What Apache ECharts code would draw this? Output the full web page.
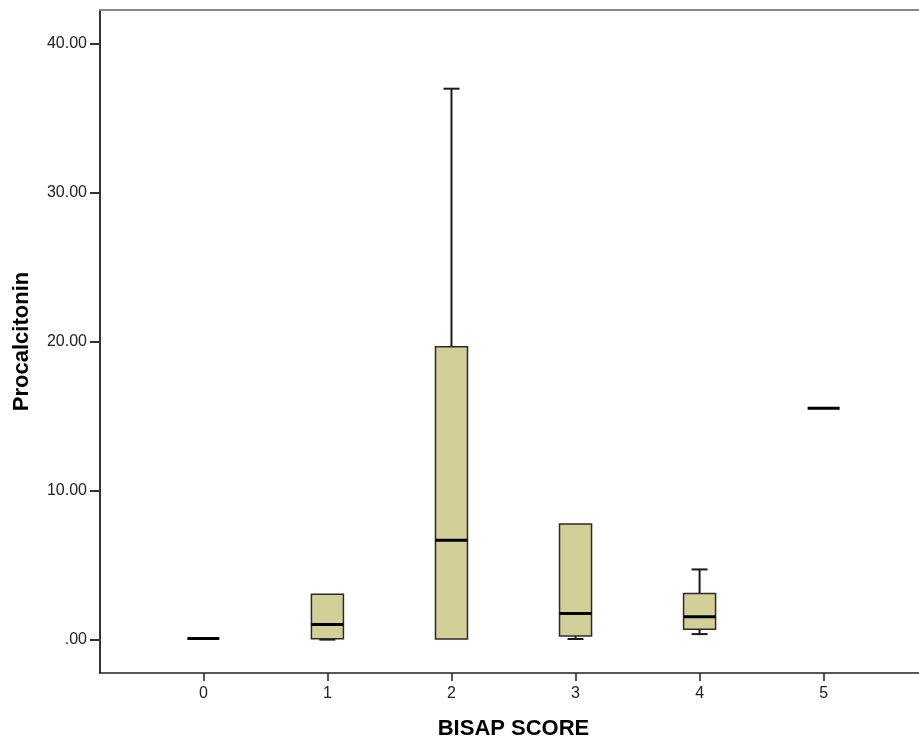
<!DOCTYPE html>
<html>
<head>
<meta charset="utf-8">
<script src="https://cdn.jsdelivr.net/npm/echarts@6/dist/echarts.min.js"></script>
<style>html,body{margin:0;padding:0;background:#fff;}#c{width:919px;height:742px;}</style>
</head>
<body>
<div id="c"></div>
<script>
const categories = ['0', '1', '2', '3', '4', '5'];
const whiskerLow  = [0.11, 0.03, 0.04, 0.07, 0.40, 15.55];
const q1          = [0.11, 0.08, 0.07, 0.27, 0.72, 15.55];
const medians     = [0.11, 1.05, 6.70, 1.79, 1.57, 15.55];
const q3          = [0.11, 3.08, 19.69, 7.79, 3.13, 15.55];
const whiskerHigh = [0.11, 3.10, 37.00, 7.80, 4.74, 15.55];
const yTicks = [0, 10, 20, 30, 40];
const yTickLabels = ['.00', '10.00', '20.00', '30.00', '40.00'];

const data = categories.map((c, i) => [i, whiskerLow[i], q1[i], medians[i], q3[i], whiskerHigh[i]]);

const chart = echarts.init(document.getElementById('c'), null, {renderer: 'canvas'});
const BOX_FRAC = 0.258;
const FONT = 'Liberation Sans, Arial, sans-serif';

function renderItem(params, api) {
  const x = api.value(0);
  const pLo = api.coord([x, api.value(1)]);
  const pQ1 = api.coord([x, api.value(2)]);
  const pMed = api.coord([x, api.value(3)]);
  const pQ3 = api.coord([x, api.value(4)]);
  const pHi = api.coord([x, api.value(5)]);
  const band = api.size([1, 0])[0];
  const w = band * BOX_FRAC;
  const cx = pMed[0];
  const children = [];
  const wStyle = {stroke: '#1a1a1a', lineWidth: 2};
  if (pHi[1] < pQ3[1] - 0.5) {
    children.push({type: 'line', shape: {x1: cx, y1: pHi[1], x2: cx, y2: pQ3[1]}, style: wStyle});
    children.push({type: 'line', shape: {x1: cx - w / 4, y1: pHi[1], x2: cx + w / 4, y2: pHi[1]}, style: wStyle});
  }
  if (pLo[1] > pQ1[1] + 0.5) {
    children.push({type: 'line', shape: {x1: cx, y1: pQ1[1], x2: cx, y2: pLo[1]}, style: wStyle});
    children.push({type: 'line', shape: {x1: cx - w / 4, y1: pLo[1], x2: cx + w / 4, y2: pLo[1]}, style: wStyle});
  }
  if (pQ1[1] - pQ3[1] > 0.5) {
    children.push({type: 'rect', shape: {x: cx - w / 2, y: pQ3[1], width: w, height: pQ1[1] - pQ3[1]},
      style: {fill: '#d3cf98', stroke: '#2b2b2b', lineWidth: 1.5}});
  }
  children.push({type: 'line', shape: {x1: cx - w / 2, y1: pMed[1], x2: cx + w / 2, y2: pMed[1]},
    style: {stroke: '#000', lineWidth: 3}});
  return {type: 'group', children: children};
}

chart.setOption({
  animation: false,
  backgroundColor: '#fff',
  grid: {left: 100, top: 10, width: 827, height: 663, containLabel: false, outerBoundsMode: 'none'},
  xAxis: [{
    type: 'value', min: -0.8333, max: 5.8333, position: 'bottom',
    name: 'BISAP SCORE', nameLocation: 'middle', nameGap: 45,
    nameTextStyle: {fontFamily: FONT, fontWeight: 'bold', fontSize: 22, color: '#000'},
    axisLine: {show: true, onZero: false, lineStyle: {color: '#222', width: 1.5}},
    axisTick: {show: true, length: 8, customValues: [0, 1, 2, 3, 4, 5], lineStyle: {color: '#222', width: 1.5}},
    axisLabel: {customValues: [0, 1, 2, 3, 4, 5], margin: 13, fontFamily: FONT, fontSize: 16, color: '#222',
      formatter: v => categories[Math.round(v)]},
    splitLine: {show: false}
  }, {
    type: 'value', min: -0.8333, max: 5.8333, position: 'top',
    axisLine: {show: true, onZero: false, lineStyle: {color: '#888', width: 2}},
    axisTick: {show: false}, axisLabel: {show: false}, splitLine: {show: false}
  }],
  yAxis: {
    type: 'value', min: -2.21, max: 42.28,
    name: 'Procalcitonin', nameLocation: 'middle', nameGap: 67, nameRotate: 90,
    nameTextStyle: {fontFamily: FONT, fontWeight: 'bold', fontSize: 22, color: '#000'},
    axisLine: {show: true, onZero: false, lineStyle: {color: '#333', width: 2}},
    axisTick: {show: true, length: 10, customValues: yTicks, lineStyle: {color: '#333', width: 2}},
    axisLabel: {customValues: yTicks, margin: 13, fontFamily: FONT, fontSize: 16, color: '#222',
      formatter: v => yTickLabels[yTicks.indexOf(Math.round(v))]},
    splitLine: {show: false}
  },
  series: [{
    type: 'custom', renderItem: renderItem, data: data, xAxisIndex: 0, yAxisIndex: 0,
    encode: {x: 0, y: [1, 2, 3, 4, 5]}, clip: false
  }]
});
</script>
</body>
</html>
